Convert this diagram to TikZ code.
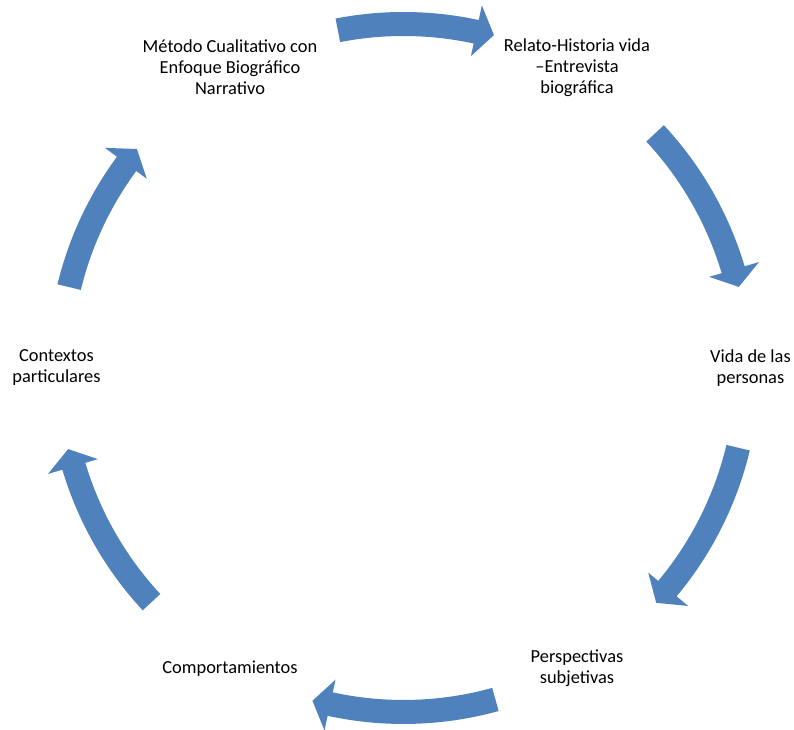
\documentclass[tikz,border=0pt]{standalone}
\usepackage{fontspec}
\setmainfont{Carlito}
\definecolor{azulseta}{HTML}{4F81BD}
\tikzset{
    rotulo/.style={align=center, font=\fontsize{13.8}{15.75}\selectfont},
    seta/.style={fill=azulseta}
}

\begin{document}
\begin{tikzpicture}[x=0.75pt, y=0.75pt]
    \useasboundingbox (-403.5,-362) rectangle (390.5,368);

    % Rótulos do ciclo: nome/ângulo/texto
    \foreach \nome/\ang/\texto in {metodo/120/{Método Cualitativo con\\Enfoque Biográfico\\Narrativo},
                                   relato/60/{Relato-Historia vida\\–Entrevista\\biográfica},
                                   vida/0/{Vida de las\\personas},
                                   perspectivas/-60/{Perspectivas\\subjetivas},
                                   comportamientos/-120/{Comportamientos},
                                   contextos/180/{Contextos\\particulares}} {
        \node[rotulo] (\nome) at (\ang:347) {\texto};
    }

    % Setas curvas entre os rótulos: ângulo da cauda/ângulo da ponta
    \foreach \ini/\fim in {101/74.8, 43/13.6, -13.4/-42.9, -74.5/-105.3, -137.1/-166.4, 166.4/140.6} {
        \pgfmathsetmacro{\base}{\fim+3}
        \fill[seta] (\ini:332) arc[start angle=\ini, end angle=\base, radius=332]
            -- (\base:319) -- (\fim:345) -- (\base:371) -- (\base:356)
            arc[start angle=\base, end angle=\ini, radius=356] -- cycle;
    }
\end{tikzpicture}
\end{document}
